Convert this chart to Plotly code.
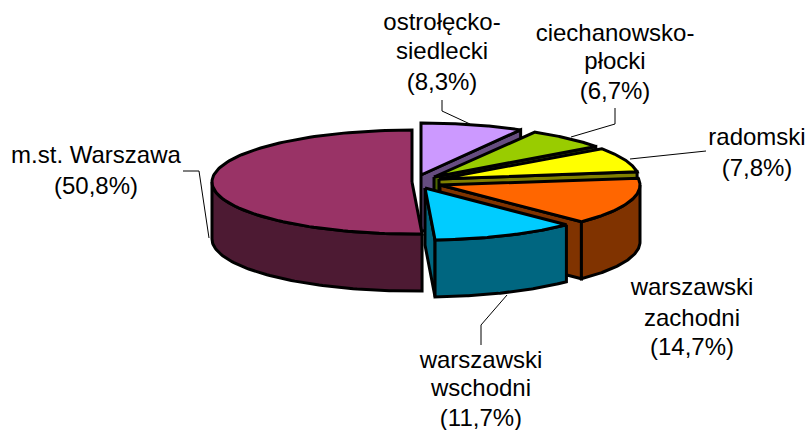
import numpy as np
import plotly.graph_objects as go

# --- data -------------------------------------------------------------
categories = ["ostrołęcko-siedlecki", "ciechanowsko-płocki", "radomski",
              "warszawski zachodni", "warszawski wschodni", "m.st. Warszawa"]
shares = [8.3, 6.7, 7.8, 14.7, 11.7, 50.8]
label_lines = [["ostrołęcko-", "siedlecki", "(8,3%)"],
               ["ciechanowsko-", "płocki", "(6,7%)"],
               ["radomski", "(7,8%)"],
               ["warszawski", "zachodni", "(14,7%)"],
               ["warszawski", "wschodni", "(11,7%)"],
               ["m.st. Warszawa", "(50,8%)"]]

# --- style / layout ---------------------------------------------------
top_colors = ["#CC99FF", "#99CC00", "#FFFF00", "#FF6600", "#00CCFF", "#993366"]
side_colors = ["#664D80", "#4D6600", "#808000", "#803300", "#006680", "#4D1A33"]
RX, RY, DEPTH = 200, 52, 57
pull_apex = [(421, 175), (434, 177), (439, 179), (440, 185), (425, 188), (412, 182)]
label_xy = [(442, [24, 53, 84]), (615, [35, 63, 93]), (757, [139, 170]),
            (692, [289, 320, 349]), (481, [362, 390, 420]), (96, [157, 188])]
leaders = [[(442, 100), (442, 111), (470, 124)],
           [(615, 108), (615, 124), (571, 137)],
           [(706, 151), (630, 159)],
           [],
           [(481, 345), (481, 325), (507, 295)],
           [(183, 171), (199, 171), (209, 238)]]
OUT = 3

fig = go.Figure()


def poly(xs, ys, color):
    fig.add_trace(go.Scatter(x=list(xs) + [xs[0]], y=list(ys) + [ys[0]], mode="lines",
                             fill="toself", fillcolor=color,
                             line=dict(color="black", width=OUT), hoverinfo="skip",
                             showlegend=False))


edges = np.concatenate([[0], np.cumsum(shares)]) / sum(shares) * 2 * np.pi
for i in range(len(shares)):
    a0, a1 = edges[i], edges[i + 1]
    ax, ay = pull_apex[i]
    px = lambda t: ax + RX * np.sin(t)
    py = lambda t: ay - RY * np.cos(t)
    # cut faces
    if np.sin(a1) > 1e-6:
        poly([ax, px(a1), px(a1), ax], [ay, py(a1), py(a1) + DEPTH, ay + DEPTH], side_colors[i])
    if np.sin(a0) < -1e-6:
        poly([ax, px(a0), px(a0), ax], [ay, py(a0), py(a0) + DEPTH, ay + DEPTH], side_colors[i])
    # outer wall (front half only)
    lo, hi = max(a0, np.pi / 2), min(a1, 3 * np.pi / 2)
    if hi > lo:
        t = np.linspace(lo, hi, 80)
        xs = np.concatenate([px(t), px(t)[::-1]])
        ys = np.concatenate([py(t), (py(t) + DEPTH)[::-1]])
        poly(xs, ys, side_colors[i])
    # top face
    t = np.linspace(a0, a1, 120)
    poly(np.concatenate([[ax], px(t)]), np.concatenate([[ay], py(t)]), top_colors[i])

for pts in leaders:
    if pts:
        fig.add_trace(go.Scatter(x=[p[0] for p in pts], y=[p[1] for p in pts], mode="lines",
                                 line=dict(color="black", width=1), hoverinfo="skip",
                                 showlegend=False))

tx, ty, tt = [], [], []
for lines, (cx, ys) in zip(label_lines, label_xy):
    for s, y in zip(lines, ys):
        tx.append(cx); ty.append(y); tt.append(s)
fig.add_trace(go.Scatter(x=tx, y=ty, text=tt, mode="text", textposition="middle center",
                         textfont=dict(family="Liberation Sans, Arial", size=24, color="black"),
                         hoverinfo="skip", showlegend=False, cliponaxis=False))

fig.update_layout(width=809, height=430, margin=dict(l=0, r=0, t=0, b=0),
                  paper_bgcolor="white", plot_bgcolor="white", showlegend=False,
                  xaxis=dict(range=[0, 809], visible=False, fixedrange=True),
                  yaxis=dict(range=[430, 0], visible=False, fixedrange=True))
fig.write_html("out.html", config={"displayModeBar": False},
               post_script="document.body.style.margin='0';document.body.style.overflow='hidden';")
